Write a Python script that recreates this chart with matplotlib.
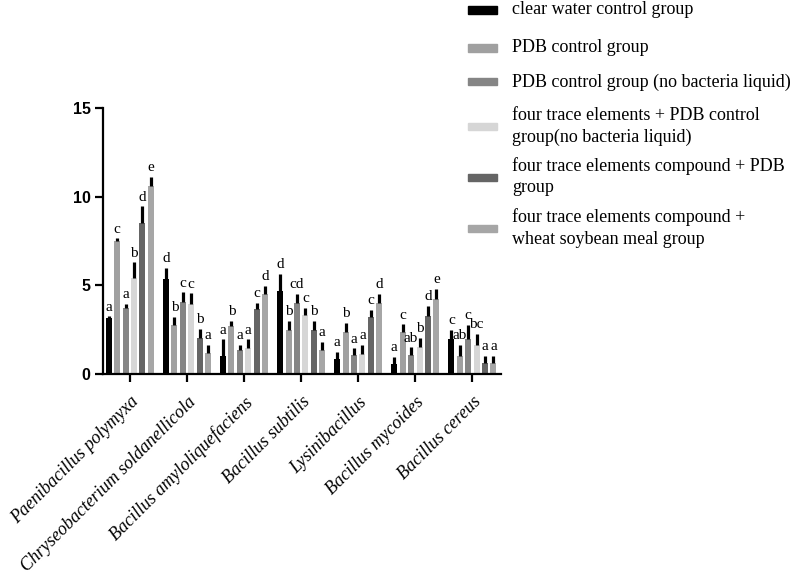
import matplotlib
matplotlib.use("Agg")
import matplotlib.pyplot as plt
import matplotlib.transforms as mtransforms
import numpy as np
from matplotlib.patches import Rectangle

categories = ["Paenibacillus polymyxa", "Chryseobacterium soldanellicola",
              "Bacillus amyloliquefaciens", "Bacillus subtilis",
              "Lysinibacillus", "Bacillus mycoides", "Bacillus cereus"]

series_names = [
    ["clear water control group"],
    ["PDB control group"],
    ["PDB control group (no bacteria liquid)"],
    ["four trace elements + PDB control", "group(no bacteria liquid)"],
    ["four trace elements compound + PDB", "group"],
    ["four trace elements compound +", "wheat soybean meal group"],
]

clear_water = [3.15, 5.35, 1.00, 4.70, 0.85, 0.55, 2.00]
pdb = [7.50, 2.75, 2.70, 2.50, 2.35, 2.35, 1.00]
pdb_nb = [3.70, 4.05, 1.35, 4.00, 1.05, 1.05, 2.00]
trace_pdb_nb = [5.40, 3.95, 1.45, 3.30, 1.15, 1.55, 1.65]
compound_pdb = [8.50, 2.05, 3.65, 2.50, 3.20, 3.25, 0.60]
compound_wheat = [10.60, 1.20, 4.50, 1.35, 4.00, 4.25, 0.60]

err_clear_water = [0.10, 0.65, 0.95, 0.95, 0.40, 0.40, 0.50]
err_pdb = [0.15, 0.45, 0.30, 0.50, 0.55, 0.45, 0.65]
err_pdb_nb = [0.25, 0.55, 0.30, 0.50, 0.40, 0.45, 0.75]
err_trace_pdb_nb = [0.90, 0.60, 0.50, 0.45, 0.50, 0.50, 0.60]
err_compound_pdb = [0.95, 0.50, 0.35, 0.50, 0.40, 0.60, 0.40]
err_compound_wheat = [0.50, 0.45, 0.45, 0.45, 0.50, 0.55, 0.40]

letters_clear_water = ["a", "d", "a", "d", "a", "a", "c"]
letters_pdb = ["c", "b", "b", "b", "b", "c", "ab"]
letters_pdb_nb = ["a", "c", "a", "cd", "a", "ab", "c"]
letters_trace_pdb_nb = ["b", "c", "a", "c", "a", "b", "bc"]
letters_compound_pdb = ["d", "b", "c", "b", "c", "d", "a"]
letters_compound_wheat = ["e", "a", "d", "a", "d", "e", "a"]

colors = ["#000000", "#a0a0a0", "#858585", "#d6d6d6", "#656565", "#a6a6a6"]

values = [clear_water, pdb, pdb_nb, trace_pdb_nb, compound_pdb, compound_wheat]
errors = [err_clear_water, err_pdb, err_pdb_nb, err_trace_pdb_nb,
          err_compound_pdb, err_compound_wheat]
letters = [letters_clear_water, letters_pdb, letters_pdb_nb,
           letters_trace_pdb_nb, letters_compound_pdb, letters_compound_wheat]

fig = plt.figure(figsize=(7.97, 5.74), dpi=100)
ax = fig.add_axes([103 / 797, 1 - 374 / 574, (501 - 103) / 797, (374 - 108) / 574])

x = np.arange(len(categories))
step = 0.147
width = 0.105
serif = "Liberation Serif"

for i in range(6):
    pos = x + (i - 2.5) * step
    ax.bar(pos, values[i], width=width, color=colors[i], zorder=2)
    v = np.array(values[i])
    e = np.array(errors[i])
    ax.vlines(pos, v, v + e, color="black", lw=2.3, zorder=3)
    for px, top, lab in zip(pos, v + e, letters[i]):
        ax.annotate(lab, (px, top), xytext=(0, 2), textcoords="offset points",
                    ha="center", va="bottom", fontsize=11, family=serif)

ax.set_xlim(-0.47, 6.5)
ax.set_ylim(0, 15)
ax.set_yticks([0, 5, 10, 15])
ax.set_xticks(x)
ax.set_xticklabels(categories, rotation=45, ha="right", rotation_mode="anchor",
                   fontsize=13, family=serif, style="italic")
shift = mtransforms.ScaledTranslation(-4 / 100, 0, fig.dpi_scale_trans)
for lab in ax.get_xticklabels():
    lab.set_transform(lab.get_transform() + shift)
for lab in ax.get_yticklabels():
    lab.set_fontweight("bold")
    lab.set_family("Liberation Sans")
    lab.set_fontsize(11.5)
ax.spines["top"].set_visible(False)
ax.spines["right"].set_visible(False)
ax.spines["left"].set_linewidth(1.6)
ax.spines["bottom"].set_linewidth(1.6)
ax.tick_params(axis="both", width=1.6, length=6, direction="out")
ax.tick_params(axis="y", pad=3)
ax.tick_params(axis="x", pad=8)

# legend drawn manually
swatch_y = [10, 48, 82, 126, 177, 229]
line_ys = [[10], [48], [82], [115, 137], [166, 188], [217, 240]]
for i in range(6):
    sy = swatch_y[i]
    fig.patches.append(Rectangle((468 / 797, 1 - (sy + 3.5) / 574), 29 / 797, 7 / 574,
                                 transform=fig.transFigure, color=colors[i]))
    for ly, txt in zip(line_ys[i], series_names[i]):
        fig.text(512 / 797, 1 - ly / 574, txt, ha="left", va="center",
                 fontsize=13, family=serif)

fig.savefig("out.png", dpi=100)
